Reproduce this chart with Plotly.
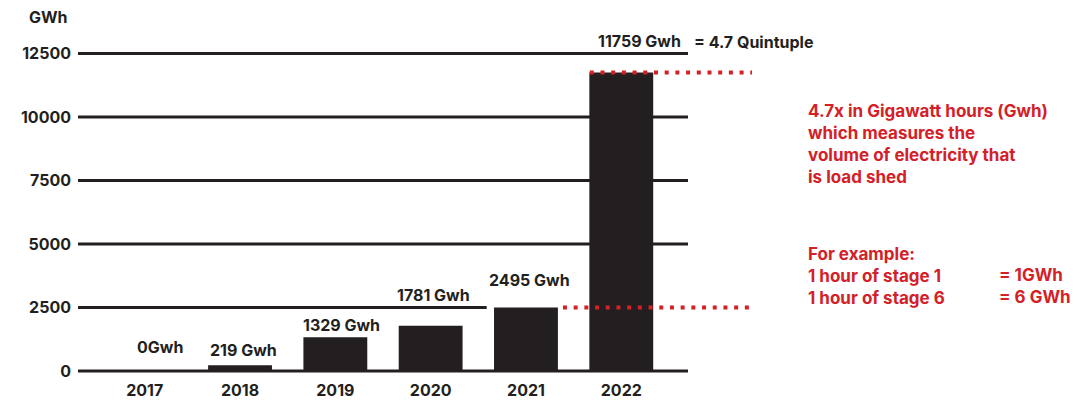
import plotly.graph_objects as go

years = ["2017", "2018", "2019", "2020", "2021", "2022"]
gwh = [0, 219, 1329, 1781, 2495, 11759]
bar_labels = ["0Gwh", "219 Gwh", "1329 Gwh", "1781 Gwh", "2495 Gwh", "11759 Gwh"]
y_ticks = [0, 2500, 5000, 7500, 10000, 12500]

DARK = "#231f20"
RED = "#d42027"
FONT = "Inter"

# label pixel offsets (style)
label_dx = [15, 3, 6, 3, 4, 18]
label_dy = [24, 15, 12, 31, 28, 31]

fig = go.Figure()
fig.add_trace(go.Bar(x=years, y=gwh, marker=dict(color=DARK, line=dict(width=0)),
                     width=0.67, hoverinfo="skip"))

shapes = []
for t in y_ticks:
    x1 = 0.67 if t == 2500 else 1.0
    shapes.append(dict(type="line", xref="paper", yref="y", x0=0, x1=x1, y0=t, y1=t,
                       line=dict(color=DARK, width=3), layer="below"))
# red dotted reference lines
shapes.append(dict(type="line", xref="paper", yref="y", x0=0.795, x1=1.105,
                   y0=gwh[4], y1=gwh[4], line=dict(color=RED, width=4, dash="4px,6.7px")))
shapes.append(dict(type="line", xref="paper", yref="y", x0=0.839, x1=1.105,
                   y0=gwh[5], y1=gwh[5], line=dict(color=RED, width=4, dash="4px,6.7px")))

annotations = []
for i, (v, lab, dx, dy) in enumerate(zip(gwh, bar_labels, label_dx, label_dy)):
    annotations.append(dict(xref="x", yref="y", x=i, y=v, text=lab, showarrow=False,
                            xshift=dx, yshift=dy, yanchor="middle",
                            font=dict(family=FONT, size=16, color=DARK, weight=700)))
# paper-y helper: plot area spans y in [-200, 12800] over paper [0, 1]
def py(v):
    return (v + 200) / 13000.0

annotations.append(dict(xref="paper", yref="paper", x=1.0066, y=py(12973), text="= 4.7 Quintuple",
                        showarrow=False, xanchor="left", yanchor="middle",
                        font=dict(family=FONT, size=16, color=DARK, weight=700)))
annotations.append(dict(xref="paper", yref="paper", x=-0.049, y=py(13959), text="GWh", showarrow=False,
                        xanchor="center", yanchor="middle",
                        font=dict(family=FONT, size=16, color=DARK, weight=700)))
annotations.append(dict(xref="paper", yref="paper", x=1.1934, y=py(8931),
                        text="4.7x in Gigawatt hours (Gwh)<br>which measures the<br>volume of electricity that<br>is load shed",
                        showarrow=False, xanchor="left", yanchor="middle", align="left",
                        font=dict(family=FONT, size=17, color=RED, weight=700)))
annotations.append(dict(xref="paper", yref="paper", x=1.1934, y=py(3746),
                        text="For example:<br>1 hour of stage 1<br>1 hour of stage 6",
                        showarrow=False, xanchor="left", yanchor="middle", align="left",
                        font=dict(family=FONT, size=17, color=RED, weight=700)))
annotations.append(dict(xref="paper", yref="paper", x=1.5066, y=py(3332),
                        text="= 1GWh<br>= 6 GWh",
                        showarrow=False, xanchor="left", yanchor="middle", align="left",
                        font=dict(family=FONT, size=17, color=RED, weight=700)))

fig.update_layout(
    width=1082, height=403,
    margin=dict(l=78, r=394, t=46, b=27, autoexpand=False),
    paper_bgcolor="white", plot_bgcolor="white",
    showlegend=False,
    shapes=shapes, annotations=annotations,
    bargap=0.33,
    xaxis=dict(type="category", range=[-0.7, 5.7], showgrid=False, showline=False, zeroline=False,
               ticks="", ticklabelstandoff=3, automargin=False,
               tickfont=dict(family=FONT, size=16, color=DARK, weight=700)),
    yaxis=dict(range=[-200, 12800], tickvals=y_ticks, ticktext=[str(t) for t in y_ticks],
               showgrid=False, showline=False, zeroline=False, ticks="", ticklabelstandoff=6,
               automargin=False,
               tickfont=dict(family=FONT, size=16, color=DARK, weight=700)),
)
fig.write_html("out.html")
